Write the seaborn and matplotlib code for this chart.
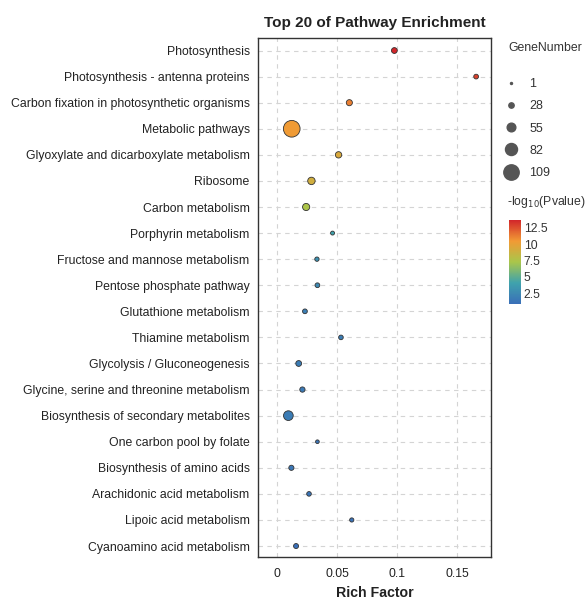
import numpy as np
import pandas as pd
import matplotlib
matplotlib.use("Agg")
import matplotlib.pyplot as plt
import seaborn as sns
from matplotlib.colors import LinearSegmentedColormap, Normalize
from matplotlib.cm import ScalarMappable
from matplotlib.lines import Line2D

pathways = [
    "Photosynthesis",
    "Photosynthesis - antenna proteins",
    "Carbon fixation in photosynthetic organisms",
    "Metabolic pathways",
    "Glyoxylate and dicarboxylate metabolism",
    "Ribosome",
    "Carbon metabolism",
    "Porphyrin metabolism",
    "Fructose and mannose metabolism",
    "Pentose phosphate pathway",
    "Glutathione metabolism",
    "Thiamine metabolism",
    "Glycolysis / Gluconeogenesis",
    "Glycine, serine and threonine metabolism",
    "Biosynthesis of secondary metabolites",
    "One carbon pool by folate",
    "Biosynthesis of amino acids",
    "Arachidonic acid metabolism",
    "Lipoic acid metabolism",
    "Cyanoamino acid metabolism",
]
rich_factor = [0.0975, 0.1656, 0.060, 0.012, 0.051, 0.0284, 0.024, 0.046, 0.033, 0.0334,
               0.023, 0.053, 0.0178, 0.0209, 0.0092, 0.0334, 0.0117, 0.0264, 0.062, 0.0156]
gene_number = [28, 20, 30, 109, 32, 40, 38, 14, 17, 20,
               20, 19, 28, 24, 57, 12, 23, 19, 16, 22]
neg_log10_p = [13.7, 12.9, 11.2, 10.4, 9.4, 9.0, 7.4, 4.1, 3.0, 2.5,
               1.9, 1.8, 1.7, 1.6, 1.7, 1.3, 1.4, 1.2, 1.1, 0.86]
legend_genes = [1, 28, 55, 82, 109]
cbar_ticks = [2.5, 5, 7.5, 10, 12.5]
x_ticks = [0, 0.05, 0.1, 0.15]
x_ticklabels = ["0", "0.05", "0.1", "0.15"]

df = pd.DataFrame({
    "Pathway": pathways,
    "RichFactor": rich_factor,
    "GeneNumber": gene_number,
    "logp": neg_log10_p,
})

sns.set_theme(style="white")
plt.rcParams["font.family"] = ["Liberation Sans", "DejaVu Sans"]

W, H = 585, 599
fig = plt.figure(figsize=(W / 100, H / 100), dpi=100)
ax = fig.add_axes([258 / W, 1 - 557 / H, (491 - 258) / W, (557 - 38) / H])

cmap = LinearSegmentedColormap.from_list(
    "enrich", ["#3a6fb8", "#3fa2ad", "#a9c64a", "#f19a35", "#d2262a"])
norm = Normalize(vmin=min(neg_log10_p), vmax=max(neg_log10_p))

gmin, gmax = min(legend_genes), max(legend_genes)


def diam_pt(g):
    px = 2.2 + 14.5 * (g - gmin) / (gmax - gmin)
    return px * 72 / 100


size_map = {g: diam_pt(g) ** 2 for g in sorted(set(gene_number))}

sns.scatterplot(data=df, x="RichFactor", y="Pathway", hue="logp", size="GeneNumber",
                sizes=size_map, palette=cmap, hue_norm=norm, edgecolor="#333333",
                linewidth=0.6, legend=False, ax=ax, zorder=3)

n = len(pathways)
ax.set_ylim(n - 1 + 0.42, -0.48)
ax.set_xlim(-0.0161, 0.178)
ax.set_xticks(x_ticks)
ax.set_xticklabels(x_ticklabels)
ax.grid(True, linestyle=(0, (4, 4)), color="#d4d4d4", linewidth=0.8, zorder=0)
ax.set_axisbelow(True)
for s in ax.spines.values():
    s.set_color("#333333")
    s.set_linewidth(1.0)
ax.tick_params(axis="both", length=0, pad=6, labelsize=8.8, labelcolor="#222222")
ax.tick_params(axis="x", pad=8)
ax.set_ylabel("")
ax.set_xlabel("Rich Factor", fontsize=10.2, fontweight="bold", color="#222222", labelpad=4)
ax.set_title("Top 20 of Pathway Enrichment", fontsize=11, fontweight="bold",
             color="#222222", pad=8)

# size legend
fig.text(508 / W, 1 - 48 / H, "GeneNumber", fontsize=8.8, color="#333333",
         ha="left", va="center")
handles = [Line2D([], [], marker="o", linestyle="", markersize=diam_pt(g) * 0.92,
                  markerfacecolor="#555555", markeredgecolor="#555555") for g in legend_genes]
leg = fig.legend(handles, [str(g) for g in legend_genes],
                 loc="upper left", bbox_to_anchor=(503 / W, 1 - 78 / H), frameon=False,
                 fontsize=9, labelspacing=0.82, handletextpad=0.9,
                 handlelength=1.2, borderaxespad=0, borderpad=0)
for t in leg.get_texts():
    t.set_color("#333333")

# colorbar
cax = fig.add_axes([509 / W, 1 - 304 / H, 12 / W, (304 - 220) / H])
cb = fig.colorbar(ScalarMappable(norm=norm, cmap=cmap), cax=cax)
cb.outline.set_visible(False)
cb.set_ticks(cbar_ticks)
cb.set_ticklabels(["2.5", "5", "7.5", "10", "12.5"])
cax.yaxis.set_ticks_position("both")
cax.tick_params(axis="y", direction="in", length=2.5, width=0.8, color="white",
                labelsize=8.8, labelcolor="#333333", pad=2, labelleft=False, labelright=True)
fig.text(507 / W, 1 - 202 / H, "-log$_{10}$(Pvalue)", fontsize=8.8, color="#333333",
         ha="left", va="center")

fig.savefig("out.png", dpi=100)
